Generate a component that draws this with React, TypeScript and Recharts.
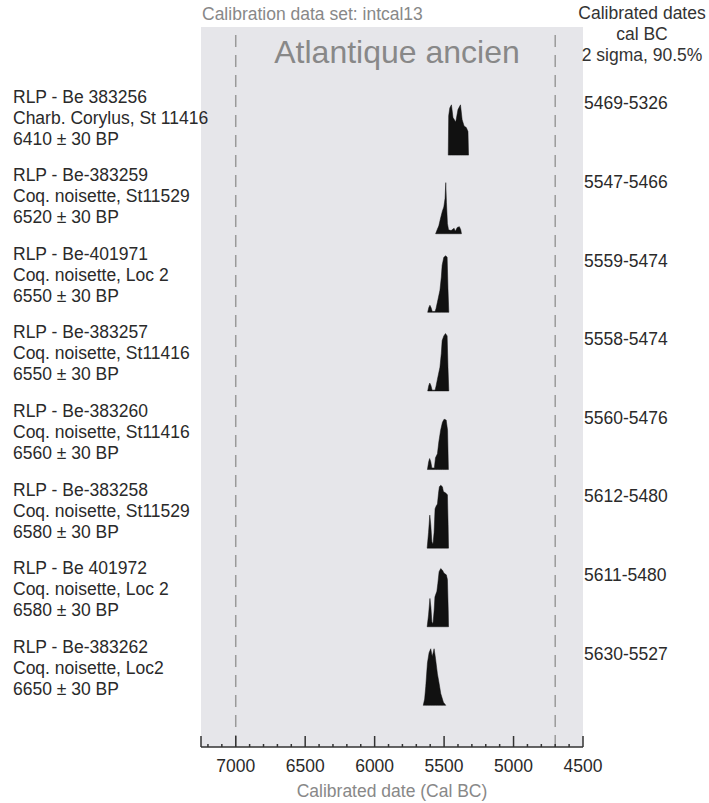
import React from 'react';
import {
    ComposedChart, Area, XAxis, YAxis, ReferenceArea, ReferenceLine, Label
} from 'recharts';

// sample labels, top to bottom
const labIds = [
    'RLP - Be 383256', 'RLP - Be-383259', 'RLP - Be-401971', 'RLP - Be-383257',
    'RLP - Be-383260', 'RLP - Be-383258', 'RLP - Be 401972', 'RLP - Be-383262',
];
const materials = [
    'Charb. Corylus, St 11416', 'Coq. noisette, St11529', 'Coq. noisette, Loc 2', 'Coq. noisette, St11416',
    'Coq. noisette, St11416', 'Coq. noisette, St11529', 'Coq. noisette, Loc 2', 'Coq. noisette, Loc2',
];
const ages = [
    '6410 ± 30 BP', '6520 ± 30 BP', '6550 ± 30 BP', '6550 ± 30 BP',
    '6560 ± 30 BP', '6580 ± 30 BP', '6580 ± 30 BP', '6650 ± 30 BP',
];
const ranges = [
    '5469-5326', '5547-5466', '5559-5474', '5558-5474',
    '5560-5476', '5612-5480', '5611-5480', '5630-5527',
];

// probability curves: [year cal BC, relative height]
const dist: [number, number][][] = [
    [[5470, 0], [5467, 0.5], [5459, 0.6], [5447, 0.64], [5436, 0.48], [5416, 0.42], [5400, 0.58], [5382, 0.64],
     [5370, 0.45], [5356, 0.37], [5340, 0.35], [5328, 0.3], [5324, 0]],
    [[5561, 0], [5550, 0.05], [5538, 0.1], [5525, 0.2], [5512, 0.29], [5502, 0.34], [5493, 0.45], [5488, 0.65],
     [5483, 0.4], [5476, 0.13], [5468, 0.05], [5450, 0.04], [5435, 0.06], [5428, 0.07], [5420, 0.03],
     [5405, 0.08], [5390, 0.09], [5380, 0.05], [5375, 0]],
    [[5618, 0], [5610, 0.06], [5602, 0.09], [5594, 0.06], [5585, 0.01], [5565, 0.01], [5558, 0.05], [5548, 0.13],
     [5530, 0.28], [5520, 0.45], [5514, 0.6], [5502, 0.7], [5488, 0.72], [5478, 0.7], [5472, 0.3], [5466, 0]],
    [[5618, 0], [5610, 0.07], [5603, 0.1], [5595, 0.07], [5586, 0.01], [5565, 0.01], [5558, 0.06], [5548, 0.15],
     [5530, 0.3], [5520, 0.48], [5514, 0.64], [5502, 0.7], [5490, 0.73], [5478, 0.7], [5472, 0.3], [5466, 0]],
    [[5620, 0], [5611, 0.1], [5604, 0.14], [5596, 0.1], [5588, 0.02], [5570, 0.02], [5562, 0.15], [5548, 0.2],
     [5538, 0.35], [5525, 0.5], [5512, 0.6], [5500, 0.64], [5485, 0.63], [5475, 0.5], [5469, 0]],
    [[5622, 0], [5612, 0.2], [5603, 0.42], [5596, 0.3], [5588, 0.08], [5580, 0.05], [5572, 0.2], [5565, 0.5],
     [5556, 0.54], [5548, 0.56], [5540, 0.7], [5534, 0.78], [5524, 0.8], [5512, 0.78], [5505, 0.72],
     [5488, 0.7], [5476, 0.68], [5471, 0.3], [5468, 0]],
    [[5622, 0], [5612, 0.15], [5602, 0.36], [5595, 0.25], [5588, 0.06], [5580, 0.04], [5572, 0.2], [5566, 0.38],
     [5552, 0.45], [5545, 0.55], [5536, 0.7], [5524, 0.74], [5512, 0.72], [5500, 0.68], [5484, 0.66],
     [5476, 0.6], [5470, 0.2], [5468, 0]],
    [[5650, 0], [5640, 0.08], [5632, 0.24], [5620, 0.54], [5608, 0.67], [5596, 0.72], [5586, 0.62], [5580, 0.66],
     [5572, 0.72], [5562, 0.6], [5548, 0.4], [5536, 0.28], [5524, 0.15], [5505, 0.04], [5488, 0]],
];

const xTicks: number[] = [7250];
for (let v = 7200; v >= 4500; v -= 100) xTicks.push(v);

const Y_MAX = 9.16;
const base = (i: number) => 7.53 - i;

// one table, one column per sample
const years = Array.from(new Set(dist.flatMap(d => d.map(p => p[0])))).sort((a, b) => b - a);
const data = years.map(yr => {
    const row: any = { year: yr };
    dist.forEach((d, i) => {
        const p = d.find(q => q[0] === yr);
        row['r' + i] = p ? p[1] : null;
    });
    return row;
});

const FONT = '"Liberation Sans", Arial, sans-serif';
const FS = 17.5;
const INK = '#2a2a2a';

const LeftTick = (props: any) => {
    const { y, index } = props;
    const lines = [labIds[index], materials[index], ages[index]];
    return (
        <text x={13} y={y} fill={INK} fontSize={FS} fontFamily={FONT}>
            {lines.map((t, k) => (
                <tspan key={k} x={13} y={y + (k - 1) * 21} dy="0.35em">{t}</tspan>
            ))}
        </text>
    );
};

const RightTick = (props: any) => {
    const { y, index } = props;
    return (
        <text x={584} y={y} dy="0.35em" fill={INK} fontSize={FS} fontFamily={FONT}>{ranges[index]}</text>
    );
};

const XTick = (props: any) => {
    const { x, y, payload } = props;
    const v = payload.value;
    const major = v % 500 === 0 || v === 7250;
    return (
        <g>
            <line x1={x} x2={x} y1={y} y2={y - (major ? 11 : 3)} stroke="#333" strokeWidth={1.5} />
            {v % 500 === 0 && (
                <text x={x} y={y + 19} dy="0.35em" textAnchor="middle" fill={INK} fontSize={FS} fontFamily={FONT}>{v}</text>
            )}
        </g>
    );
};

export default function App() {
    return (
        <div style={{ position: 'absolute', left: 0, top: 0, width: 709, height: 803, background: '#fff', fontFamily: FONT }}>
            <ComposedChart width={709} height={803} data={data} margin={{ top: 27, right: 0, bottom: 0, left: 0 }}>
                <XAxis dataKey="year" type="number" domain={[4500, 7250]} reversed allowDataOverflow
                    ticks={xTicks} interval={0} tick={<XTick />} tickLine={false} tickSize={0} tickMargin={0}
                    height={56} axisLine={{ stroke: '#333', strokeWidth: 1.5 }}>
                    <Label value="Calibrated date (Cal BC)" position="insideBottom" offset={6}
                        fill="#888" fontSize={FS} fontFamily={FONT} />
                </XAxis>
                <YAxis yAxisId="left" type="number" domain={[0, Y_MAX]} allowDataOverflow width={201}
                    ticks={labIds.map((_, i) => base(i) + 0.48)} interval={0}
                    tick={<LeftTick />} axisLine={false} tickLine={false} />
                <YAxis yAxisId="right" orientation="right" type="number" domain={[0, Y_MAX]} allowDataOverflow width={126}
                    ticks={ranges.map((_, i) => base(i) + 0.66)} interval={0}
                    tick={<RightTick />} axisLine={false} tickLine={false} />
                <ReferenceArea yAxisId="left" x1={4500} x2={7250} y1={0} y2={Y_MAX}
                    fill="#e6e6ea" fillOpacity={1} stroke="none" ifOverflow="hidden" />
                <ReferenceLine yAxisId="left" x={7000} stroke="#9a9a9a" strokeWidth={1.5} strokeDasharray="12 8" />
                <ReferenceLine yAxisId="left" x={4700} stroke="#9a9a9a" strokeWidth={1.5} strokeDasharray="12 8" />
                {dist.map((_, i) => (
                    <Area key={i} yAxisId="left" type="linear" connectNulls
                        dataKey={(d: any) => (d['r' + i] == null ? null : [base(i), base(i) + d['r' + i]])}
                        stroke="#111" strokeWidth={0.5} fill="#111" fillOpacity={1}
                        dot={false} activeDot={false} isAnimationActive={false} />
                ))}
            </ComposedChart>
            <div style={{ position: 'absolute', left: 202, top: 4, fontSize: FS, lineHeight: '20px', color: '#888' }}>
                Calibration data set: intcal13
            </div>
            <div style={{ position: 'absolute', left: 232, width: 330, top: 34, textAlign: 'center', fontSize: 32, lineHeight: '36px', color: '#888' }}>
                Atlantique ancien
            </div>
            <div style={{ position: 'absolute', left: 578, width: 128, top: 3, textAlign: 'center', fontSize: FS, lineHeight: '21px', color: '#333' }}>
                Calibrated dates<br />cal BC<br />2 sigma, 90.5%
            </div>
        </div>
    );
}
